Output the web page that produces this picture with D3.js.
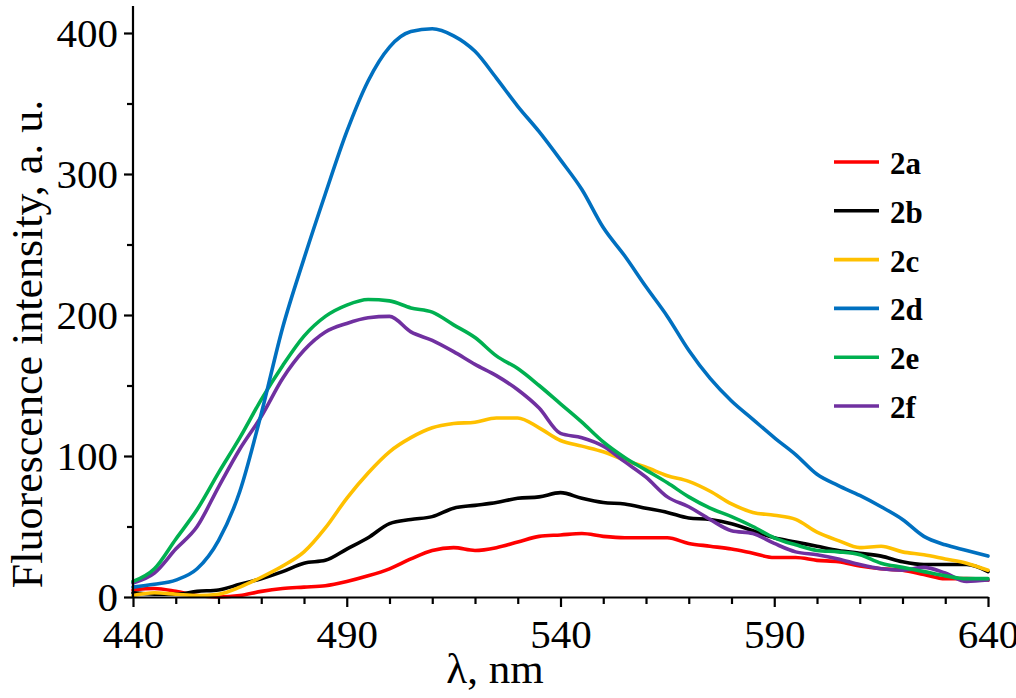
<!DOCTYPE html>
<html>
<head>
<meta charset="utf-8">
<script src="https://cdn.jsdelivr.net/npm/d3@7"></script>
<style>
html,body{margin:0;padding:0;background:#fff;}
svg text{font-family:"Liberation Serif","Times New Roman",serif;}
</style>
</head>
<body>
<svg id="chart" width="1016" height="698"></svg>
<script>
const wavelengths = d3.range(440, 641, 5);
const series2a = [5,6,4,1,0,1,4,6,7,8,11,15,20,27,33,35,33,35,39,43,44,45,43,42,42,42,38,36,34,31,28,28,26,25,22,20,19,16,13,13,12];
const series2b = [3,2,2,4,5,9,13,18,24,26,34,42,52,55,57,63,65,67,70,71,74,70,67,66,63,60,56,55,52,47,42,39,36,33,31,29,25,23,23,23,18];
const series2c = [1,3,2,1,2,7,14,22,32,49,70,88,103,113,120,123,124,127,127,120,111,107,103,97,92,86,82,75,66,60,58,55,46,40,35,36,32,30,27,24,19];
const series2d = [7,9,12,20,40,75,130,191,240,286,330,366,390,401,403,398,387,368,348,330,310,289,262,242,220,199,175,155,139,126,113,101,87,79,72,64,55,43,37,33,29];
const series2e = [11,20,41,62,88,113,140,164,185,199,207,211,210,205,202,193,184,171,162,150,137,124,110,99,90,81,71,63,57,50,42,37,33,32,30,24,21,18,15,13,13];
const series2f = [10,17,34,50,78,105,128,155,175,188,194,198,199,188,182,174,165,157,147,134,116,113,107,96,85,71,64,55,47,45,38,32,30,27,23,20,19,21,17,11,12];
const seriesNames = ["2a","2b","2c","2d","2e","2f"];
const seriesColors = ["#ff0000","#000000","#ffc000","#0070c0","#00b050","#7030a0"];
const xMajorTicks = [440,490,540,590,640];
const xMinorTicks = d3.range(440, 641, 10).filter(v => !xMajorTicks.includes(v));
const yMajorTicks = [0,100,200,300,400];
const yMinorTicks = [50,150,250,350];
const xTitle = "λ, nm";
const yTitle = "Fluorescence intensity, a. u.";

const allSeries = [series2a, series2b, series2c, series2d, series2e, series2f];

const svg = d3.select("#chart");
const x = d3.scaleLinear().domain([440, 640]).range([133, 988]);
const y = d3.scaleLinear().domain([0, 400]).range([597, 33]);

// lines
const line = d3.line().x((d,i) => x(wavelengths[i])).y(d => y(d)).curve(d3.curveMonotoneX);
const order = [0,1,2,5,4,3];
order.forEach(k => {
  svg.append("path")
    .datum(allSeries[k])
    .attr("d", line)
    .attr("fill", "none")
    .attr("stroke", seriesColors[k])
    .attr("stroke-width", 3.6)
    .attr("stroke-linejoin", "round")
    .attr("stroke-linecap", "round");
});

// axes
const fs = 41;
const xAxis = svg.append("g").attr("transform", "translate(0,597)")
  .call(d3.axisBottom(x).tickValues(xMajorTicks).tickSize(10).tickSizeOuter(0).tickPadding(8).tickFormat(d3.format("d")));
const xMinor = svg.append("g").attr("transform", "translate(0,597)")
  .call(d3.axisBottom(x).tickValues(xMinorTicks).tickSize(7).tickSizeOuter(0).tickFormat(""));
xMinor.select(".domain").remove();

const yAxis = svg.append("g").attr("transform", "translate(133,0)")
  .call(d3.axisLeft(y).tickValues(yMajorTicks).tickSize(9).tickSizeOuter(0).tickPadding(6).tickFormat(d3.format("d")));
const yMinor = svg.append("g").attr("transform", "translate(133,0)")
  .call(d3.axisLeft(y).tickValues(yMinorTicks).tickSize(6).tickSizeOuter(0).tickFormat(""));
yMinor.select(".domain").remove();
// extend y axis line to top
yAxis.select(".domain").attr("d", `M0,${y(0)}V6`);

svg.selectAll(".tick line, .domain").attr("stroke", "#000").attr("stroke-width", 2.2);
svg.selectAll(".tick text").attr("font-size", fs).attr("fill", "#000")
  .attr("font-family", "'Liberation Serif','Times New Roman',serif");
xAxis.selectAll(".tick text").attr("dy", "0.8em");
yAxis.selectAll(".tick text").attr("dy", "0.34em");

// titles
svg.append("text").attr("x", 495).attr("y", 683).attr("text-anchor", "middle")
  .attr("font-size", 43).text(xTitle);
svg.append("text").attr("transform", "translate(42,344) rotate(-90)").attr("text-anchor", "middle")
  .attr("font-size", 44).text(yTitle);

// legend
const legend = svg.append("g");
seriesNames.forEach((n, i) => {
  const ly = 162 + i * 48.8;
  legend.append("line").attr("x1", 834).attr("x2", 879).attr("y1", ly).attr("y2", ly)
    .attr("stroke", seriesColors[i]).attr("stroke-width", 3.6);
  legend.append("text").attr("x", 890).attr("y", ly + 12).attr("font-size", 31)
    .attr("font-weight", "bold").text(n);
});
</script>
</body>
</html>
